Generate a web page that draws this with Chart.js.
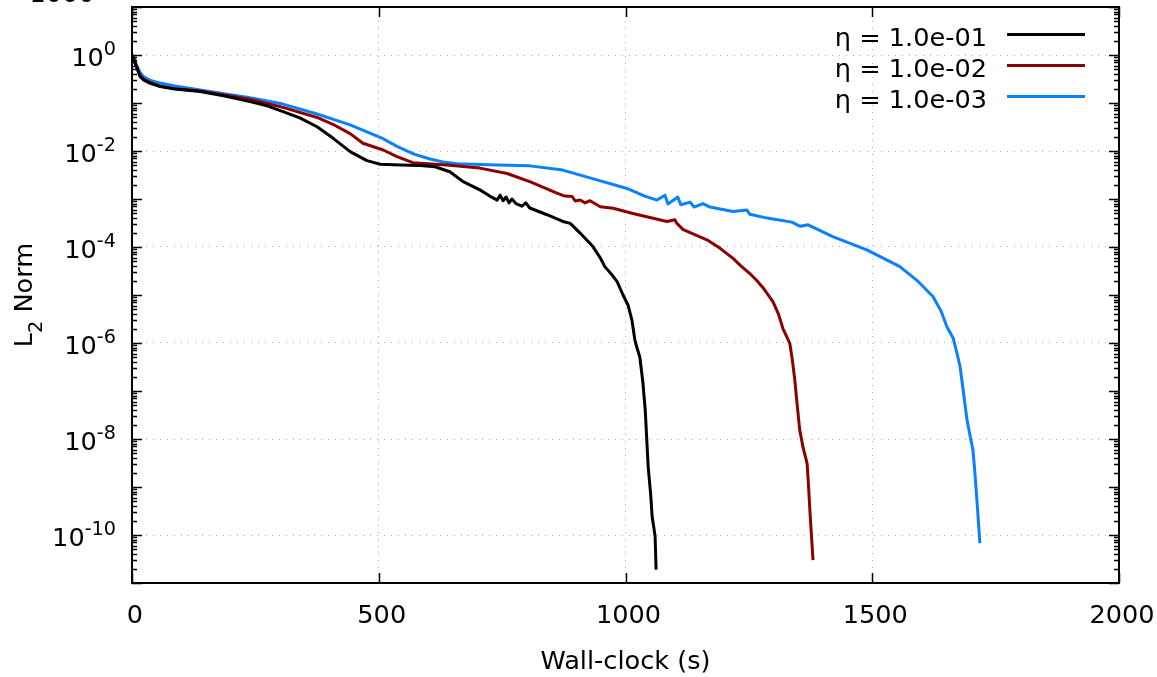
<!DOCTYPE html>
<html><head><meta charset="utf-8">
<script src="https://cdn.jsdelivr.net/npm/chart.js@4.4.1/dist/chart.umd.min.js"></script>
<style>html,body{margin:0;padding:0;background:#fff;} #wrap{width:1157px;height:677px;}</style>
</head><body><div id="wrap"><canvas id="c" width="1157" height="677"></canvas></div>
<script>
const seriesLabels = ['η = 1.0e-01', 'η = 1.0e-02', 'η = 1.0e-03'];
const seriesColors = ['#000000', '#8b0000', '#0a80ff'];

const time1 = [0,4,10,16,24,36,57,87,138,188,239,274,306,340,375,407,442,476,503,543,584,614,644,671,705,725,740,746,752,758,764,770,778,790,798,806,841,873,888,908,934,949,958,973,983,995,1005,1013,1019,1024,1029,1035,1040,1046,1051,1054,1058,1060,1062];
const norm1 = [1.0,0.79,0.54,0.36,0.30,0.26,0.22,0.195,0.174,0.14,0.107,0.087,0.066,0.049,0.032,0.0186,0.0097,0.0063,0.0053,0.0051,0.0050,0.0047,0.0037,0.0023,0.00155,0.00115,0.00095,0.0012,0.00092,0.0011,0.00083,0.0010,0.00080,0.00071,0.00083,0.00065,0.00047,0.00034,0.00031,0.000195,1.02e-4,5.9e-5,3.9e-5,2.6e-5,1.9e-5,1.0e-5,6.2e-6,3.0e-6,1.15e-6,7.5e-7,5.1e-7,1.6e-7,4.0e-8,2.6e-9,7.0e-10,2.4e-10,1.3e-10,9.3e-11,1.9e-11];

const time2 = [0,4,10,16,24,36,57,87,138,239,306,375,407,442,468,509,537,569,638,705,760,806,861,877,892,898,908,918,928,949,975,1015,1084,1100,1104,1117,1165,1191,1218,1232,1252,1266,1279,1299,1310,1319,1333,1338,1343,1348,1353,1360,1368,1371,1374,1377,1380];
const norm2 = [1.0,0.8,0.55,0.38,0.31,0.27,0.225,0.197,0.178,0.12,0.081,0.050,0.036,0.023,0.0145,0.0105,0.0076,0.0057,0.0051,0.0044,0.0034,0.0023,0.00132,0.00115,0.00113,0.00091,0.00095,0.00083,0.00092,0.00069,0.00064,0.00050,0.00034,0.00037,0.00031,0.00023,0.000141,9.5e-5,5.8e-5,4.2e-5,2.8e-5,2.0e-5,1.4e-5,7.2e-6,4.0e-6,2.0e-6,9.8e-7,4.5e-7,1.7e-7,5.0e-8,1.55e-8,6.5e-9,3.1e-9,1.0e-9,2.8e-10,9.0e-11,3.0e-11];

const time3 = [0,4,10,16,24,36,57,87,138,239,306,375,442,482,509,537,557,573,604,634,659,740,806,873,942,1003,1039,1064,1080,1086,1106,1112,1131,1139,1157,1171,1218,1246,1252,1287,1337,1354,1370,1420,1489,1556,1591,1623,1640,1651,1664,1671,1678,1685,1692,1698,1704,1708,1712,1715,1718];
const norm3 = [1.0,0.87,0.59,0.44,0.35,0.30,0.26,0.226,0.187,0.129,0.095,0.059,0.035,0.0237,0.018,0.0125,0.0101,0.0085,0.0068,0.0058,0.0054,0.0051,0.0049,0.0040,0.0025,0.00166,0.00115,0.00095,0.0012,0.00079,0.0011,0.00076,0.00086,0.00068,0.0008,0.00068,0.00055,0.00059,0.00048,0.00040,0.00033,0.00027,0.00029,0.000165,8.7e-5,3.9e-5,2.0e-5,9.3e-6,4.5e-6,2.2e-6,1.26e-6,6.5e-7,3.2e-7,9.0e-8,2.5e-8,1.2e-8,5.9e-9,2.0e-9,5.4e-10,2.0e-10,6.8e-11];

const xTickValues = [0, 500, 1000, 1500, 2000];
const yLabelExponents = [0, -2, -4, -6, -8, -10];
const yDecadeExponents = [1, 0, -1, -2, -3, -4, -5, -6, -7, -8, -9, -10, -11];
const yMinorMultipliers = [2, 3, 4, 5, 6, 7, 8, 9];
const xTitle = 'Wall-clock (s)';
const yTitleMain = 'L', yTitleSub = '2', yTitleRest = ' Norm';

const FONT = '"DejaVu Sans", sans-serif';
const FS = 25.6, FSS = 19.2;

function toPoints(t, v) { return t.map((x, i) => ({ x: x, y: v[i] })); }

const framePlugin = {
  id: 'gnuframe',
  afterDraw(chart) {
    const ctx = chart.ctx, a = chart.chartArea;
    const xs = chart.scales.x, ys = chart.scales.y;
    ctx.save();
    ctx.strokeStyle = '#000'; ctx.lineWidth = 1.5;
    ctx.beginPath();
    yDecadeExponents.forEach(e => {
      const y = Math.round(ys.getPixelForValue(Math.pow(10, e))) + 0.5;
      if (y < a.top - 1 || y > a.bottom + 1) return;
      ctx.moveTo(a.left, y); ctx.lineTo(a.left + 10, y);
      ctx.moveTo(a.right, y); ctx.lineTo(a.right - 10, y);
      yMinorMultipliers.forEach(m => {
        const v = m * Math.pow(10, e);
        const yy = Math.round(ys.getPixelForValue(v)) + 0.5;
        if (yy < a.top || yy > a.bottom) return;
        ctx.moveTo(a.left, yy); ctx.lineTo(a.left + 5, yy);
        ctx.moveTo(a.right, yy); ctx.lineTo(a.right - 5, yy);
      });
    });
    xTickValues.forEach(v => {
      const x = Math.round(xs.getPixelForValue(v)) + 0.5;
      ctx.moveTo(x, a.bottom); ctx.lineTo(x, a.bottom - 10);
      ctx.moveTo(x, a.top); ctx.lineTo(x, a.top + 10);
    });
    ctx.stroke();
    ctx.lineWidth = 2;
    ctx.strokeRect(a.left, a.top, a.right - a.left, a.bottom - a.top);

    ctx.fillStyle = '#000';
    ctx.textBaseline = 'alphabetic';
    ctx.textAlign = 'left';
    yLabelExponents.forEach(e => {
      const y = ys.getPixelForValue(Math.pow(10, e));
      ctx.font = FS + 'px ' + FONT;
      const w10 = ctx.measureText('10').width;
      ctx.font = FSS + 'px ' + FONT;
      const exp = String(e);
      const wE = ctx.measureText(exp).width;
      const x0 = 116 - w10 - wE;
      ctx.font = FS + 'px ' + FONT;
      ctx.fillText('10', x0, y + 11);
      ctx.font = FSS + 'px ' + FONT;
      ctx.fillText(exp, x0 + w10, y);
    });
    ctx.font = FS + 'px ' + FONT;
    ctx.textAlign = 'center';
    ctx.fillText('1000', 62, 2);

    ctx.font = FS + 'px ' + FONT;
    ctx.textAlign = 'center';
    ctx.fillText(xTitle, (a.left + a.right) / 2, 669);

    ctx.save();
    ctx.translate(32, (a.top + a.bottom) / 2);
    ctx.rotate(-Math.PI / 2);
    ctx.textAlign = 'left';
    ctx.font = FS + 'px ' + FONT;
    const wL = ctx.measureText(yTitleMain).width;
    const wR = ctx.measureText(yTitleRest).width;
    ctx.font = FSS + 'px ' + FONT;
    const wS = ctx.measureText(yTitleSub).width;
    let sx = -(wL + wS + wR) / 2;
    ctx.font = FS + 'px ' + FONT;
    ctx.fillText(yTitleMain, sx, 0);
    ctx.font = FSS + 'px ' + FONT;
    ctx.fillText(yTitleSub, sx + wL, 10);
    ctx.font = FS + 'px ' + FONT;
    ctx.fillText(yTitleRest, sx + wL + wS, 0);
    ctx.restore();

    chart.data.datasets.forEach((ds, i) => {
      const ly = 34.5 + i * 31;
      ctx.font = FS + 'px ' + FONT;
      ctx.textAlign = 'right';
      ctx.fillStyle = '#000';
      ctx.fillText(ds.label, 987, ly + 11);
      ctx.strokeStyle = ds.borderColor;
      ctx.lineWidth = 3;
      ctx.beginPath();
      ctx.moveTo(1007, ly); ctx.lineTo(1085, ly);
      ctx.stroke();
    });
    ctx.restore();
  }
};

const gridStyle = { color: '#b0b0b0', lineWidth: 1, drawTicks: false };

new Chart(document.getElementById('c'), {
  type: 'line',
  data: {
    datasets: [
      { label: seriesLabels[0], data: toPoints(time1, norm1), borderColor: seriesColors[0] },
      { label: seriesLabels[1], data: toPoints(time2, norm2), borderColor: seriesColors[1] },
      { label: seriesLabels[2], data: toPoints(time3, norm3), borderColor: seriesColors[2] }
    ].map(d => Object.assign(d, { borderWidth: 3, pointRadius: 0, fill: false, tension: 0, borderJoinStyle: 'round' }))
  },
  options: {
    responsive: false,
    animation: false,
    devicePixelRatio: 1,
    layout: { padding: { left: 0, right: 38, top: 7, bottom: 0 } },
    plugins: { legend: { display: false }, tooltip: { enabled: false } },
    scales: {
      x: {
        type: 'linear', min: 0, max: 2000,
        afterBuildTicks: s => { s.ticks = xTickValues.map(v => ({ value: v })); },
        afterFit: s => { s.height = 94; s.paddingLeft = 0; s.paddingRight = 0; },
        ticks: { font: { family: FONT, size: FS }, color: '#000', padding: 18, labelOffset: 3, maxRotation: 0, autoSkip: false,
                 callback: v => String(v) },
        grid: gridStyle,
        border: { display: false, dash: [1, 6] }
      },
      y: {
        type: 'logarithmic', min: 1e-11, max: 10,
        afterBuildTicks: s => { s.ticks = yLabelExponents.map(e => ({ value: Math.pow(10, e) })); },
        afterFit: s => { s.width = 132; s.paddingTop = 0; s.paddingBottom = 0; },
        ticks: { display: false },
        grid: gridStyle,
        border: { display: false, dash: [1, 6] }
      }
    }
  },
  plugins: [framePlugin]
});
</script>
</body></html>
